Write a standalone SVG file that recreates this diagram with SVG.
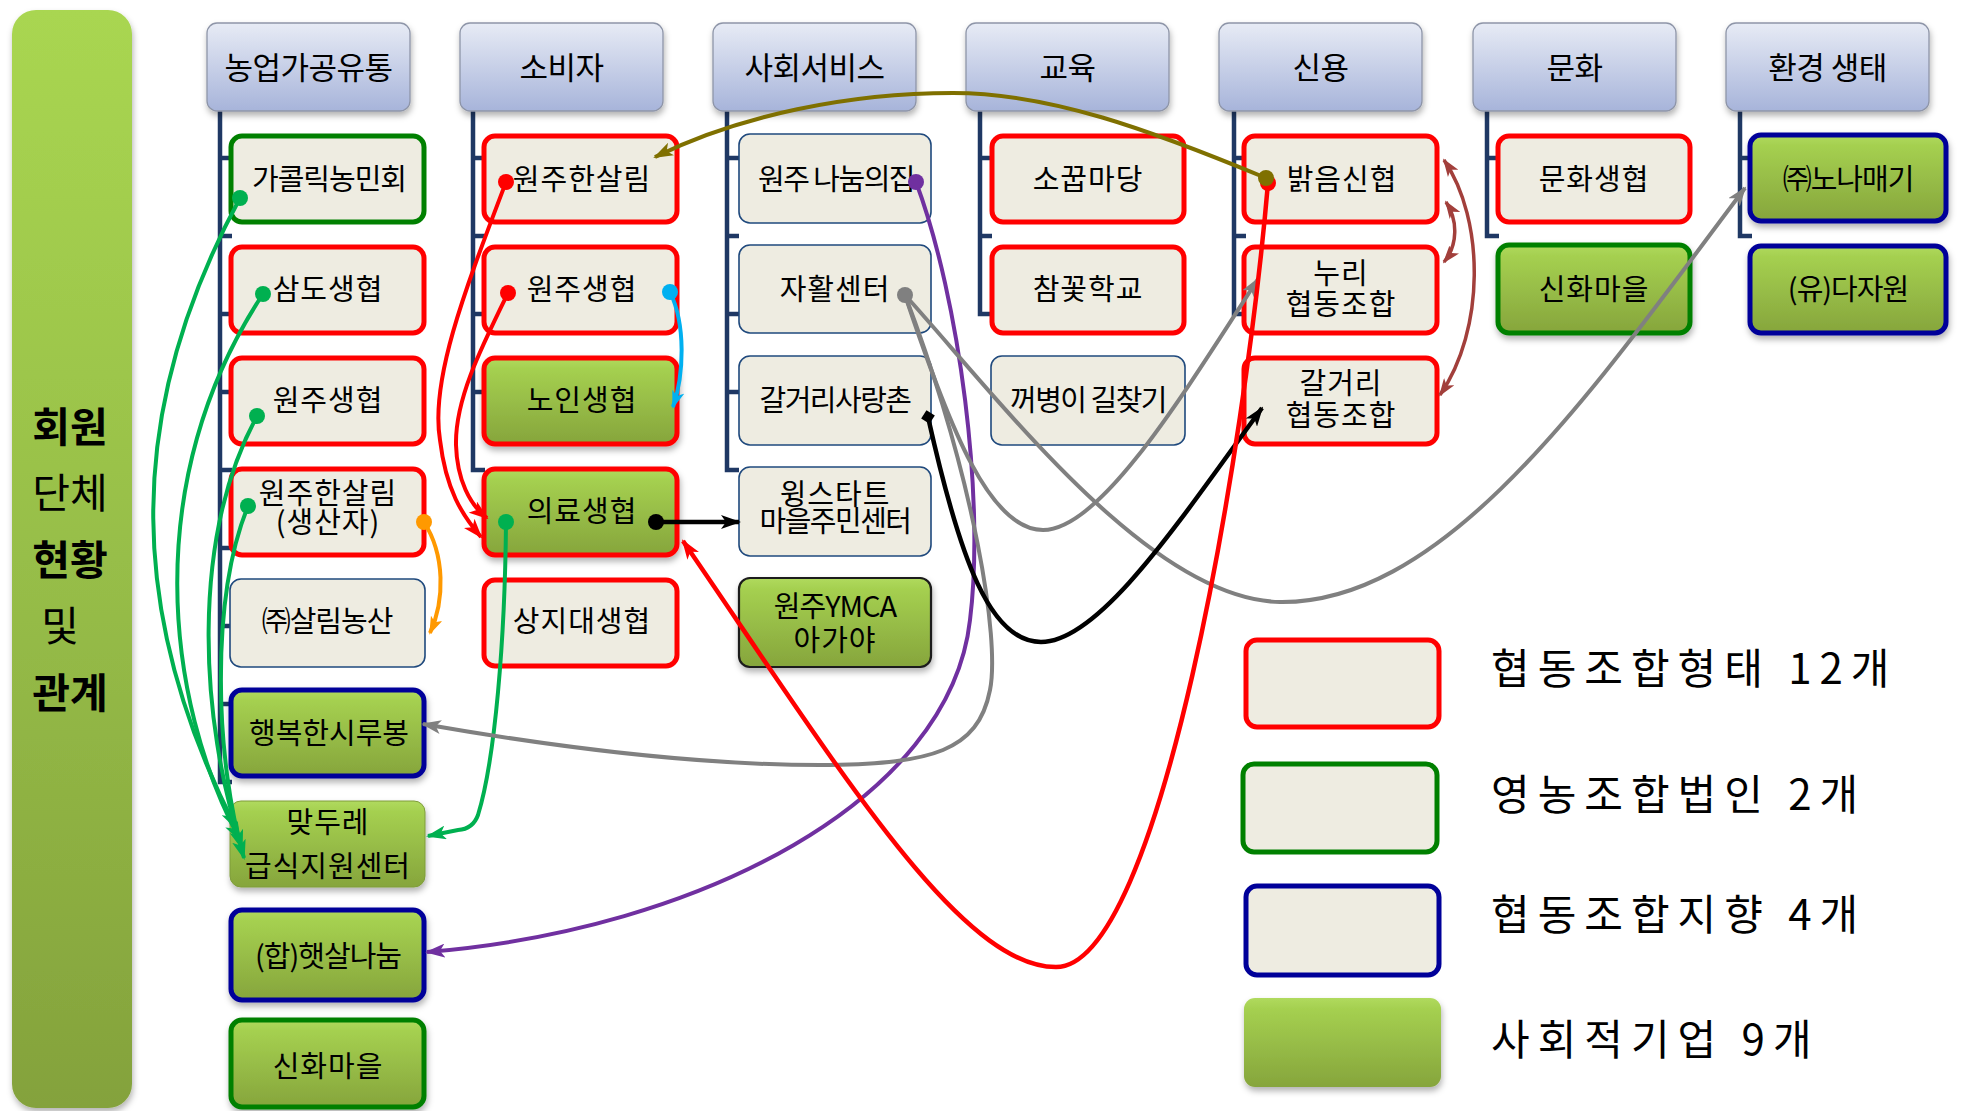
<svg xmlns="http://www.w3.org/2000/svg" width="1965" height="1111" viewBox="0 0 1965 1111">
<defs>
<style>
.t{font-family:"Noto Sans CJK KR","Noto Sans",sans-serif;font-size:29px;text-anchor:middle;fill:#000;letter-spacing:1px}
.h{font-family:"Noto Sans CJK KR","Noto Sans",sans-serif;font-size:31px;text-anchor:middle;fill:#000;letter-spacing:-0.5px}
.lg{font-family:"Noto Sans CJK KR","Noto Sans",sans-serif;font-size:42px;fill:#000;letter-spacing:8px}
.side{font-family:"Noto Sans CJK KR","Noto Sans",sans-serif;font-size:41px;text-anchor:middle;fill:#000}
.b{font-weight:bold}
.hdr{fill:url(#gHdr);stroke:#8E95A8;stroke-width:1.3;filter:url(#sh)}
.red{fill:#EEECE1;stroke:#FF0000;stroke-width:5}
.grn{fill:#EEECE1;stroke:#008000;stroke-width:5}
.nav{fill:#EEECE1;stroke:#000099;stroke-width:5}
.thin{fill:#EEECE1;stroke:#1F497D;stroke-width:1.6}
.gRed{fill:url(#gGreen);stroke:#FF0000;stroke-width:5;filter:url(#sh)}
.gNav{fill:url(#gGreen);stroke:#000099;stroke-width:5;filter:url(#sh)}
.gGrn{fill:url(#gGreen);stroke:#008000;stroke-width:5;filter:url(#sh)}
.gBlk{fill:url(#gGreen);stroke:#1A1A1A;stroke-width:2.2;filter:url(#sh)}
.gPln{fill:url(#gGreen);stroke:#7E9C3A;stroke-width:1;filter:url(#sh)}
.tree{fill:none;stroke:#1F3864;stroke-width:4.5}
.c{fill:none}
</style>
<linearGradient id="gHdr" x1="0" y1="0" x2="0" y2="1"><stop offset="0" stop-color="#E7EBF5"/><stop offset="1" stop-color="#A7B4DA"/></linearGradient>
<linearGradient id="gGreen" x1="0" y1="0" x2="0" y2="1"><stop offset="0" stop-color="#B0DA5E"/><stop offset="0.12" stop-color="#A5D050"/><stop offset="1" stop-color="#86A53C"/></linearGradient>
<linearGradient id="gBar" x1="0" y1="0" x2="0" y2="1"><stop offset="0" stop-color="#A9D651"/><stop offset="0.5" stop-color="#97BE48"/><stop offset="1" stop-color="#84A23C"/></linearGradient>
<filter id="sh" x="-10%" y="-10%" width="130%" height="140%"><feDropShadow dx="1" dy="4" stdDeviation="3" flood-color="#000" flood-opacity="0.3"/></filter>
<marker id="aOlive" viewBox="0 0 20 14" refX="18" refY="7" markerWidth="20" markerHeight="14" markerUnits="userSpaceOnUse" orient="auto"><path d="M0,0 L20,7 L0,14 L5,7 z" fill="#7F7000"/></marker>
<marker id="aRed" viewBox="0 0 20 14" refX="18" refY="7" markerWidth="20" markerHeight="14" markerUnits="userSpaceOnUse" orient="auto"><path d="M0,0 L20,7 L0,14 L5,7 z" fill="#FF0000"/></marker>
<marker id="aCyan" viewBox="0 0 20 14" refX="18" refY="7" markerWidth="18" markerHeight="13" markerUnits="userSpaceOnUse" orient="auto"><path d="M0,0 L20,7 L0,14 L5,7 z" fill="#00B0F0"/></marker>
<marker id="aBlack" viewBox="0 0 20 14" refX="18" refY="7" markerWidth="20" markerHeight="14" markerUnits="userSpaceOnUse" orient="auto"><path d="M0,0 L20,7 L0,14 L5,7 z" fill="#000"/></marker>
<marker id="aOrange" viewBox="0 0 20 14" refX="18" refY="7" markerWidth="18" markerHeight="13" markerUnits="userSpaceOnUse" orient="auto"><path d="M0,0 L20,7 L0,14 L5,7 z" fill="#FF9900"/></marker>
<marker id="aGreen" viewBox="0 0 20 14" refX="18" refY="7" markerWidth="20" markerHeight="14" markerUnits="userSpaceOnUse" orient="auto"><path d="M0,0 L20,7 L0,14 L5,7 z" fill="#00B050"/></marker>
<marker id="aGray" viewBox="0 0 20 14" refX="18" refY="7" markerWidth="20" markerHeight="14" markerUnits="userSpaceOnUse" orient="auto"><path d="M0,0 L20,7 L0,14 L5,7 z" fill="#808080"/></marker>
<marker id="aPurple" viewBox="0 0 20 14" refX="18" refY="7" markerWidth="20" markerHeight="14" markerUnits="userSpaceOnUse" orient="auto"><path d="M0,0 L20,7 L0,14 L5,7 z" fill="#7030A0"/></marker>
<marker id="aBrown" viewBox="0 0 20 14" refX="18" refY="7" markerWidth="18" markerHeight="13" markerUnits="userSpaceOnUse" orient="auto-start-reverse"><path d="M0,0 L20,7 L0,14 L5,7 z" fill="#A23F3B"/></marker>
<marker id="dOlive" viewBox="0 0 16 16" refX="8" refY="8" markerWidth="16" markerHeight="16" markerUnits="userSpaceOnUse"><circle cx="8" cy="8" r="8" fill="#7F7000"/></marker>
<marker id="dRed" viewBox="0 0 16 16" refX="8" refY="8" markerWidth="16" markerHeight="16" markerUnits="userSpaceOnUse"><circle cx="8" cy="8" r="8" fill="#FF0000"/></marker>
<marker id="dCyan" viewBox="0 0 16 16" refX="8" refY="8" markerWidth="16" markerHeight="16" markerUnits="userSpaceOnUse"><circle cx="8" cy="8" r="8" fill="#00B0F0"/></marker>
<marker id="dBlack" viewBox="0 0 16 16" refX="8" refY="8" markerWidth="16" markerHeight="16" markerUnits="userSpaceOnUse"><circle cx="8" cy="8" r="8" fill="#000"/></marker>
<marker id="dOrange" viewBox="0 0 16 16" refX="8" refY="8" markerWidth="16" markerHeight="16" markerUnits="userSpaceOnUse"><circle cx="8" cy="8" r="8" fill="#FF9900"/></marker>
<marker id="dGreen" viewBox="0 0 16 16" refX="8" refY="8" markerWidth="16" markerHeight="16" markerUnits="userSpaceOnUse"><circle cx="8" cy="8" r="8" fill="#00B050"/></marker>
<marker id="dGray" viewBox="0 0 16 16" refX="8" refY="8" markerWidth="16" markerHeight="16" markerUnits="userSpaceOnUse"><circle cx="8" cy="8" r="8" fill="#808080"/></marker>
<marker id="dPurple" viewBox="0 0 16 16" refX="8" refY="8" markerWidth="16" markerHeight="16" markerUnits="userSpaceOnUse"><circle cx="8" cy="8" r="8" fill="#7030A0"/></marker>
<marker id="dmBlack" viewBox="0 0 16 16" refX="8" refY="8" markerWidth="14" markerHeight="14" markerUnits="userSpaceOnUse" orient="auto"><path d="M0,8 L8,0 L16,8 L8,16 z" fill="#000"/></marker>
</defs>
<rect width="1965" height="1111" fill="#FFFFFF"/>

<g id="side-bar">
<rect x="12" y="10" width="120" height="1098" rx="24" fill="url(#gBar)" filter="url(#sh)"/>
<text class="side b" x="70" y="442">회원</text>
<text class="side" x="70" y="508">단체</text>
<text class="side b" x="70" y="575">현황</text>
<text class="side" x="60" y="641">및</text>
<text class="side b" x="70" y="708">관계</text>
</g>

<g id="tree-lines">
<path class="tree" d="M220,111 V782 H232 M220,158 H232 M220,236 H232 M220,314 H232 M220,392 H232 M220,470 H232 M220,548 H232 M220,626 H232 M220,704 H232"/>
<path class="tree" d="M473,111 V470 H485 M473,158 H485 M473,236 H485 M473,314 H485 M473,392 H485"/>
<path class="tree" d="M727,111 V470 H739 M727,158 H739 M727,236 H739 M727,314 H739 M727,392 H739"/>
<path class="tree" d="M980,111 V314 H992 M980,158 H992 M980,236 H992"/>
<path class="tree" d="M1234,111 V314 H1246 M1234,158 H1246 M1234,236 H1246"/>
<path class="tree" d="M1487,111 V236 H1499 M1487,158 H1499"/>
<path class="tree" d="M1740,111 V236 H1752 M1740,158 H1752"/>
</g>

<g id="headers">
<g id="h1"><rect class="hdr" x="207" y="23" width="203" height="88" rx="10"/><text class="h" x="308.5" y="79">농업가공유통</text></g>
<g id="h2"><rect class="hdr" x="460" y="23" width="203" height="88" rx="10"/><text class="h" x="561.5" y="79">소비자</text></g>
<g id="h3"><rect class="hdr" x="713" y="23" width="203" height="88" rx="10"/><text class="h" x="814.5" y="79">사회서비스</text></g>
<g id="h4"><rect class="hdr" x="966" y="23" width="203" height="88" rx="10"/><text class="h" x="1067.5" y="79">교육</text></g>
<g id="h5"><rect class="hdr" x="1219" y="23" width="203" height="88" rx="10"/><text class="h" x="1320.5" y="79">신용</text></g>
<g id="h6"><rect class="hdr" x="1473" y="23" width="203" height="88" rx="10"/><text class="h" x="1574.5" y="79">문화</text></g>
<g id="h7"><rect class="hdr" x="1726" y="23" width="203" height="88" rx="10"/><text class="h" x="1827.5" y="79">환경 생태</text></g>
</g>

<g id="nodes">
<g id="n-gatholic"><rect class="grn" x="231" y="136" width="193" height="86" rx="11"/><text class="t" x="329" y="190" style="letter-spacing:-1px">가콜릭농민회</text></g>
<g id="n-samdo"><rect class="red" x="231" y="247" width="193" height="86" rx="11"/><text class="t" x="328" y="300">삼도생협</text></g>
<g id="n-wonju-coop1"><rect class="red" x="231" y="358" width="193" height="86" rx="11"/><text class="t" x="328" y="411">원주생협</text></g>
<g id="n-hansalim-prod"><rect class="red" x="231" y="469" width="193" height="86" rx="11"/><text class="t" x="328" y="504">원주한살림</text><text class="t" x="328" y="533">(생산자)</text></g>
<g id="n-salim-farm"><rect class="thin" x="230" y="579" width="195" height="88" rx="11"/><text class="t" x="327" y="632" style="letter-spacing:-1px">㈜살림농산</text></g>
<g id="n-siru"><rect class="gNav" x="231" y="690" width="193" height="86" rx="11"/><text class="t" x="329" y="744" style="letter-spacing:0px">행복한시루봉</text></g>
<g id="n-matdure"><rect class="gPln" x="230" y="801" width="195" height="86" rx="11"/><text class="t" x="328" y="833">맞두레</text><text class="t" x="328" y="877">급식지원센터</text></g>
<g id="n-haetsal"><rect class="gNav" x="231" y="910" width="193" height="90" rx="11"/><text class="t" x="328" y="967" style="letter-spacing:-1px">(합)햇살나눔</text></g>
<g id="n-sinhwa1"><rect class="gGrn" x="231" y="1020" width="193" height="87" rx="11"/><text class="t" x="328" y="1077">신화마을</text></g>

<g id="n-hansalim"><rect class="red" x="484" y="136" width="193" height="86" rx="11"/><text class="t" x="582" y="190">원주한살림</text></g>
<g id="n-wonju-coop2"><rect class="red" x="484" y="247" width="193" height="86" rx="11"/><text class="t" x="582" y="300">원주생협</text></g>
<g id="n-elder"><rect class="gRed" x="484" y="358" width="193" height="86" rx="11"/><text class="t" x="582" y="411">노인생협</text></g>
<g id="n-medical"><rect class="gRed" x="484" y="469" width="193" height="86" rx="11"/><text class="t" x="582" y="522">의료생협</text></g>
<g id="n-sangji"><rect class="red" x="484" y="580" width="193" height="86" rx="11"/><text class="t" x="582" y="632">상지대생협</text></g>

<g id="n-nanum"><rect class="thin" x="739" y="134" width="192" height="89" rx="11"/><text class="t" x="836" y="190" style="letter-spacing:-1.5px">원주 나눔의집</text></g>
<g id="n-jahwal"><rect class="thin" x="739" y="245" width="192" height="88" rx="11"/><text class="t" x="835" y="300">자활센터</text></g>
<g id="n-galgeori-chon"><rect class="thin" x="739" y="356" width="192" height="89" rx="11"/><text class="t" x="835" y="411" style="letter-spacing:-1.5px">갈거리사랑촌</text></g>
<g id="n-wingstart"><rect class="thin" x="739" y="467" width="192" height="89" rx="11"/><text class="t" x="835" y="505">윙스타트</text><text class="t" x="835" y="532" style="letter-spacing:-1.5px">마을주민센터</text></g>
<g id="n-ymca"><rect class="gBlk" x="739" y="578" width="192" height="89" rx="11"/><text class="t" x="835" y="617" style="letter-spacing:-1px">원주YMCA</text><text class="t" x="835" y="651">아가야</text></g>

<g id="n-sokkup"><rect class="red" x="992" y="136" width="192" height="86" rx="11"/><text class="t" x="1088" y="190">소꿉마당</text></g>
<g id="n-chamkkot"><rect class="red" x="992" y="247" width="192" height="86" rx="11"/><text class="t" x="1088" y="300">참꽃학교</text></g>
<g id="n-kkeobyeong"><rect class="thin" x="991" y="356" width="194" height="89" rx="11"/><text class="t" x="1088" y="411" style="letter-spacing:-1.5px">꺼병이 길찾기</text></g>

<g id="n-balgeum"><rect class="red" x="1244" y="136" width="193" height="86" rx="11"/><text class="t" x="1342" y="190">밝음신협</text></g>
<g id="n-nuri"><rect class="red" x="1244" y="247" width="193" height="86" rx="11"/><text class="t" x="1341" y="284">누리</text><text class="t" x="1341" y="315">협동조합</text></g>
<g id="n-galgeori-coop"><rect class="red" x="1244" y="358" width="193" height="86" rx="11"/><text class="t" x="1341" y="394">갈거리</text><text class="t" x="1341" y="426">협동조합</text></g>

<g id="n-culture"><rect class="red" x="1498" y="136" width="192" height="86" rx="11"/><text class="t" x="1594" y="190">문화생협</text></g>
<g id="n-sinhwa2"><rect class="gGrn" x="1498" y="245" width="192" height="88" rx="11"/><text class="t" x="1594" y="300">신화마을</text></g>

<g id="n-nonamaegi"><rect class="gNav" x="1750" y="135" width="196" height="86" rx="11"/><text class="t" x="1848" y="190" style="letter-spacing:-1px">㈜노나매기</text></g>
<g id="n-dajawon"><rect class="gNav" x="1750" y="246" width="196" height="87" rx="11"/><text class="t" x="1848" y="300" style="letter-spacing:-1px">(유)다자원</text></g>
</g>

<g id="connectors">
<path class="c" stroke="#00B050" stroke-width="4" d="M240,198 C120,420 130,620 236,828" marker-start="url(#dGreen)" marker-end="url(#aGreen)"/>
<path class="c" stroke="#00B050" stroke-width="4" d="M263,294 C140,480 165,700 240,840" marker-start="url(#dGreen)" marker-end="url(#aGreen)"/>
<path class="c" stroke="#00B050" stroke-width="4" d="M257,416 C190,540 200,720 242,848" marker-start="url(#dGreen)" marker-end="url(#aGreen)"/>
<path class="c" stroke="#00B050" stroke-width="4" d="M248,506 C210,600 215,760 244,858" marker-start="url(#dGreen)" marker-end="url(#aGreen)"/>
<path class="c" stroke="#00B050" stroke-width="4" d="M506,522 C505,640 495,760 478,815 Q473,829 458,830 L428,836" marker-start="url(#dGreen)" marker-end="url(#aGreen)"/>
<path class="c" stroke="#FF9900" stroke-width="4" d="M424,522 C445,555 445,600 430,633" marker-start="url(#dOrange)" marker-end="url(#aOrange)"/>
<path class="c" stroke="#FF0000" stroke-width="4" d="M506,182 C465,290 430,380 440,440 C446,490 462,515 481,537" marker-start="url(#dRed)" marker-end="url(#aRed)"/>
<path class="c" stroke="#FF0000" stroke-width="4" d="M508,293 C480,350 455,400 456,445 C457,480 470,505 487,518" marker-start="url(#dRed)" marker-end="url(#aRed)"/>
<path class="c" stroke="#00B0F0" stroke-width="4" d="M670,292 C686,325 684,375 673,407" marker-start="url(#dCyan)" marker-end="url(#aCyan)"/>
<path class="c" stroke="#000000" stroke-width="4.5" d="M656,522 L739,522" marker-start="url(#dBlack)" marker-end="url(#aBlack)"/>
<path class="c" stroke="#7030A0" stroke-width="4" d="M916,182 C960,300 985,500 970,620 C950,800 700,930 427,952" marker-start="url(#dPurple)" marker-end="url(#aPurple)"/>
<path class="c" stroke="#808080" stroke-width="4" d="M905,295 C975,480 1000,640 990,690 C978,752 930,763 830,765 C700,766 560,748 423,724" marker-start="url(#dGray)" marker-end="url(#aGray)"/>
<path class="c" stroke="#808080" stroke-width="4" d="M905,295 C950,430 990,530 1043,530 C1100,530 1180,400 1258,279" marker-end="url(#aGray)"/>
<path class="c" stroke="#808080" stroke-width="4" d="M905,295 C1000,400 1150,600 1280,602 C1450,604 1600,380 1745,188" marker-end="url(#aGray)"/>
<path class="c" stroke="#000000" stroke-width="4.5" d="M928,417 C960,560 990,642 1041,642 C1100,642 1180,520 1262,408" marker-start="url(#dmBlack)" marker-end="url(#aBlack)"/>
<path class="c" stroke="#FF0000" stroke-width="4.5" d="M1268,183 C1245,450 1160,967 1056,967 C960,967 840,770 683,541" marker-start="url(#dRed)" marker-end="url(#aRed)"/>
<path class="c" stroke="#7F7000" stroke-width="4" d="M1266,178 C1150,130 1050,93 953,93 C850,93 740,115 655,157" marker-start="url(#dOlive)" marker-end="url(#aOlive)"/>
<path class="c" stroke="#A23F3B" stroke-width="3.5" d="M1444,160 C1485,220 1485,330 1440,395" marker-start="url(#aBrown)" marker-end="url(#aBrown)"/>
<path class="c" stroke="#A23F3B" stroke-width="3.5" d="M1446,202 C1458,220 1458,245 1444,262" marker-start="url(#aBrown)" marker-end="url(#aBrown)"/>
</g>

<g id="legend">
<g id="lg-coop"><rect class="red" x="1246" y="640" width="193" height="87" rx="11"/><text class="lg" x="1491" y="684">협동조합형태 12개</text></g>
<g id="lg-farm"><rect class="grn" x="1243" y="764" width="194" height="88" rx="11"/><text class="lg" x="1491" y="810">영농조합법인 2개</text></g>
<g id="lg-oriented"><rect class="nav" x="1246" y="886" width="193" height="89" rx="11"/><text class="lg" x="1491" y="930">협동조합지향 4개</text></g>
<g id="lg-social"><rect x="1244" y="998" width="197" height="89" rx="11" fill="url(#gGreen)" filter="url(#sh)"/><text class="lg" x="1491" y="1055">사회적기업 9개</text></g>
</g>
</svg>
